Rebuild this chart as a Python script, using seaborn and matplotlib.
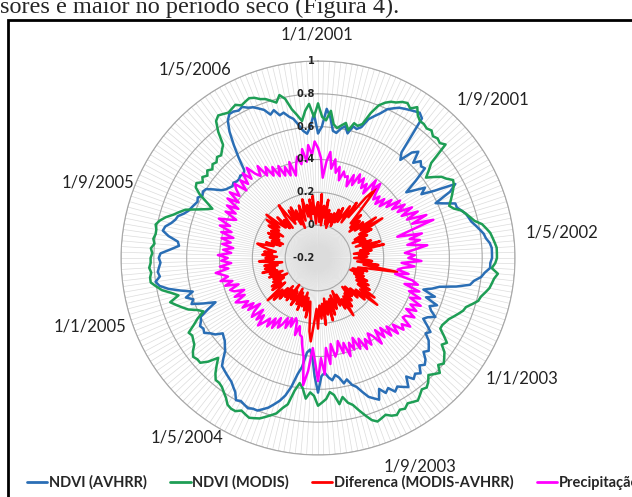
import numpy as np
import pandas as pd
import seaborn as sns
import matplotlib.pyplot as plt
from matplotlib.lines import Line2D
from matplotlib.patches import Rectangle

# decendios de 1/1/2001 a 21/12/2006 (216 categorias), rotulo a cada 8 meses
rotulos = ['1/1/2001', '1/9/2001', '1/5/2002', '1/1/2003', '1/9/2003',
           '1/5/2004', '1/1/2005', '1/9/2005', '1/5/2006']

ndvi_modis = [
    0.74, 0.66, 0.64, 0.70, 0.62, 0.60, 0.62, 0.64, 0.60, 0.65, 0.64, 0.66,
    0.74, 0.80, 0.83, 0.85, 0.86, 0.88, 0.89, 0.87, 0.90, 0.86, 0.84, 0.84,
    0.83, 0.84, 0.82, 0.83, 0.82, 0.84, 0.70, 0.66, 0.62, 0.66, 0.70, 0.72,
    0.75, 0.74, 0.72, 0.70, 0.68, 0.66, 0.68, 0.72, 0.74, 0.76, 0.78, 0.82,
    0.84, 0.86, 0.87, 0.88, 0.89, 0.89, 0.89, 0.88, 0.86, 0.90, 0.88, 0.87,
    0.86, 0.84, 0.82, 0.81, 0.78, 0.75, 0.74, 0.72, 0.70, 0.68, 0.67, 0.66,
    0.66, 0.70, 0.74, 0.72, 0.76, 0.78, 0.80, 0.78, 0.82, 0.80, 0.78, 0.81,
    0.83, 0.82, 0.84, 0.86, 0.85, 0.84, 0.86, 0.85, 0.87, 0.86, 0.84, 0.85,
    0.86, 0.84, 0.80, 0.76, 0.72, 0.70, 0.66, 0.70, 0.64, 0.62, 0.66, 0.68,
    0.70, 0.64, 0.62, 0.66, 0.60, 0.57, 0.62, 0.71, 0.74, 0.78, 0.80, 0.82,
    0.84, 0.85, 0.86, 0.85, 0.84, 0.86, 0.86, 0.85, 0.82, 0.80, 0.78, 0.77,
    0.77, 0.74, 0.70, 0.66, 0.72, 0.76, 0.76, 0.77, 0.75, 0.72, 0.71, 0.70,
    0.71, 0.66, 0.62, 0.57, 0.60, 0.65, 0.68, 0.71, 0.74, 0.68, 0.72, 0.77,
    0.80, 0.83, 0.83, 0.82, 0.83, 0.82, 0.82, 0.81, 0.82, 0.80, 0.81, 0.80,
    0.80, 0.81, 0.79, 0.76, 0.72, 0.69, 0.66, 0.60, 0.55, 0.51, 0.56, 0.62,
    0.66, 0.67, 0.64, 0.66, 0.64, 0.66, 0.64, 0.66, 0.65, 0.67, 0.66, 0.68,
    0.70, 0.78, 0.84, 0.86, 0.85, 0.84, 0.85, 0.86, 0.84, 0.85, 0.86, 0.85,
    0.83, 0.82, 0.80, 0.78, 0.82, 0.79, 0.72, 0.68, 0.64, 0.70, 0.74, 0.66,
]

ndvi_avhrr = [
    0.56, 0.60, 0.71, 0.66, 0.58, 0.57, 0.60, 0.62, 0.58, 0.63, 0.62, 0.64,
    0.70, 0.73, 0.76, 0.80, 0.82, 0.84, 0.85, 0.86, 0.87, 0.88, 0.86, 0.62,
    0.58, 0.66, 0.69, 0.62, 0.66, 0.64, 0.65, 0.56, 0.47, 0.52, 0.58, 0.54,
    0.62, 0.75, 0.70, 0.59, 0.64, 0.70, 0.70, 0.72, 0.74, 0.75, 0.76, 0.78,
    0.80, 0.82, 0.83, 0.85, 0.86, 0.86, 0.86, 0.85, 0.85, 0.82, 0.80, 0.76,
    0.74, 0.66, 0.56, 0.52, 0.47, 0.55, 0.50, 0.58, 0.54, 0.56, 0.60, 0.56,
    0.54, 0.58, 0.62, 0.60, 0.64, 0.66, 0.68, 0.66, 0.70, 0.72, 0.70, 0.74,
    0.72, 0.74, 0.70, 0.76, 0.74, 0.72, 0.74, 0.70, 0.72, 0.68, 0.74, 0.72,
    0.70, 0.66, 0.62, 0.60, 0.56, 0.58, 0.54, 0.52, 0.55, 0.53, 0.50, 0.52,
    0.62, 0.52, 0.40, 0.36, 0.38, 0.47, 0.52, 0.60, 0.66, 0.70, 0.73, 0.76,
    0.78, 0.80, 0.80, 0.81, 0.80, 0.79, 0.80, 0.76, 0.74, 0.72, 0.71, 0.70,
    0.69, 0.68, 0.64, 0.60, 0.58, 0.56, 0.55, 0.54, 0.58, 0.60, 0.63, 0.62,
    0.63, 0.61, 0.60, 0.54, 0.48, 0.55, 0.62, 0.60, 0.64, 0.59, 0.66, 0.73,
    0.78, 0.80, 0.77, 0.78, 0.77, 0.76, 0.77, 0.76, 0.70, 0.65, 0.66, 0.72,
    0.76, 0.75, 0.72, 0.70, 0.69, 0.66, 0.64, 0.63, 0.62, 0.61, 0.62, 0.60,
    0.61, 0.60, 0.56, 0.52, 0.50, 0.49, 0.48, 0.49, 0.48, 0.48, 0.49, 0.48,
    0.50, 0.58, 0.66, 0.74, 0.80, 0.83, 0.83, 0.82, 0.83, 0.81, 0.80, 0.78,
    0.76, 0.72, 0.74, 0.70, 0.71, 0.68, 0.66, 0.62, 0.58, 0.56, 0.60, 0.68,
]

diferenca = [
    0.14, 0.02, 0.19, 0.00, 0.12, 0.05, 0.16, 0.01, 0.10, -0.01, 0.08, 0.03,
    0.09, 0.01, 0.12, 0.04, 0.14, 0.05, 0.10, 0.17, 0.06, 0.21, 0.11, 0.27,
    0.35, 0.19, 0.09, 0.17, 0.07, 0.14, 0.05, 0.15, 0.08, 0.23, 0.11, 0.26,
    0.09, 0.17, 0.05, 0.13, 0.03, 0.11, 0.07, 0.14, 0.04, 0.19, 0.08, 0.21,
    0.06, 0.13, 0.02, 0.11, 0.05, 0.10, 0.02, 0.09, 0.13, 0.04, 0.17, 0.08,
    0.29, 0.12, 0.05, 0.11, 0.02, 0.09, 0.01, 0.10, 0.04, 0.13, 0.06, 0.15,
    0.07, 0.17, 0.09, 0.22, 0.12, 0.26, 0.10, 0.18, 0.07, 0.14, 0.04, 0.11,
    0.03, 0.13, 0.07, 0.16, 0.08, 0.21, 0.09, 0.15, 0.05, 0.12, 0.02, 0.10,
    0.13, 0.04, 0.16, 0.06, 0.19, 0.07, 0.15, 0.05, 0.21, 0.08, 0.17, 0.09,
    0.23, 0.11, 0.19, 0.31, 0.25, 0.13, 0.07, 0.17, 0.05, 0.13, 0.02, 0.11,
    0.05, 0.14, 0.03, 0.11, 0.01, 0.09, 0.13, 0.04, 0.10, 0.00, 0.12, 0.05,
    0.11, 0.03, 0.14, 0.06, 0.17, 0.09, 0.20, 0.10, 0.05, 0.14, 0.07, 0.13,
    0.04, 0.11, 0.01, 0.10, 0.05, 0.12, 0.03, 0.11, 0.06, 0.15, 0.07, 0.13,
    0.05, 0.13, 0.02, 0.10, 0.16, 0.07, 0.12, 0.05, 0.14, 0.08, 0.13, 0.06,
    0.11, 0.15, 0.18, 0.08, 0.13, 0.04, 0.10, 0.03, 0.12, 0.06, 0.14, 0.07,
    0.13, 0.05, 0.16, 0.09, 0.19, 0.10, 0.21, 0.11, 0.07, 0.15, 0.05, 0.11,
    0.04, 0.13, 0.20, 0.09, 0.05, 0.14, 0.07, 0.15, 0.03, 0.12, 0.00, 0.10,
    0.14, 0.04, 0.11, 0.17, 0.06, 0.13, 0.03, 0.16, 0.07, 0.18, 0.01, 0.11,
]

precipitacao = [
    0.47, 0.41, 0.29, 0.39, 0.45, 0.35, 0.41, 0.33, 0.37, 0.29, 0.35, 0.32,
    0.33, 0.27, 0.35, 0.29, 0.37, 0.32, 0.36, 0.30, 0.34, 0.28, 0.39, 0.33,
    0.39, 0.33, 0.29, 0.33, 0.28, 0.34, 0.29, 0.37, 0.32, 0.41, 0.34, 0.42,
    0.36, 0.45, 0.37, 0.47, 0.39, 0.51, 0.41, 0.54, 0.39, 0.30, 0.45, 0.37,
    0.43, 0.35, 0.47, 0.39, 0.33, 0.39, 0.35, 0.43, 0.31, 0.39, 0.32, 0.29,
    0.36, 0.28, 0.39, 0.43, 0.35, 0.45, 0.39, 0.47, 0.41, 0.49, 0.43, 0.48,
    0.42, 0.49, 0.44, 0.43, 0.50, 0.45, 0.48, 0.41, 0.47, 0.39, 0.45, 0.37,
    0.43, 0.36, 0.45, 0.38, 0.35, 0.42, 0.37, 0.43, 0.35, 0.41, 0.33, 0.40,
    0.35, 0.43, 0.34, 0.40, 0.32, 0.38, 0.41, 0.33, 0.45, 0.35, 0.51, 0.41,
    0.55, 0.43, 0.35, 0.49, 0.58, 0.41, 0.35, 0.29, 0.28, 0.23, 0.29, 0.21,
    0.19, 0.25, 0.20, 0.27, 0.21, 0.26, 0.29, 0.23, 0.31, 0.25, 0.32, 0.27,
    0.31, 0.35, 0.28, 0.33, 0.26, 0.34, 0.31, 0.25, 0.33, 0.28, 0.35, 0.30,
    0.34, 0.37, 0.30, 0.36, 0.29, 0.35, 0.37, 0.31, 0.39, 0.34, 0.41, 0.36,
    0.39, 0.43, 0.35, 0.40, 0.33, 0.39, 0.35, 0.41, 0.33, 0.38, 0.32, 0.39,
    0.34, 0.40, 0.33, 0.41, 0.35, 0.43, 0.37, 0.45, 0.39, 0.35, 0.43, 0.37,
    0.44, 0.37, 0.46, 0.39, 0.47, 0.41, 0.45, 0.48, 0.40, 0.47, 0.42, 0.49,
    0.43, 0.50, 0.44, 0.41, 0.47, 0.39, 0.44, 0.37, 0.42, 0.35, 0.41, 0.34,
    0.39, 0.33, 0.41, 0.32, 0.38, 0.43, 0.38, 0.47, 0.39, 0.49, 0.43, 0.51,
]

series = ['NDVI (AVHRR)', 'NDVI (MODIS)', 'Diferenca (MODIS-AVHRR)', 'Precipitação']
cores = ['#2A6EB5', '#1E9E55', '#FF0000', '#FF00FF']
valores = [ndvi_avhrr, ndvi_modis, diferenca, precipitacao]

n = len(ndvi_modis)
theta = np.linspace(0, 2 * np.pi, n, endpoint=False)

frames = []
for nome, v in zip(series, valores):
    # fecha o poligono voltando ao primeiro ponto
    frames.append(pd.DataFrame({'theta': np.append(theta, 2 * np.pi),
                                'valor': v + [v[0]], 'serie': nome}))
df = pd.concat(frames, ignore_index=True)

sns.set_style('white')
plt.rcParams['font.family'] = ['Lato', 'DejaVu Sans']

fig = plt.figure(figsize=(6.32, 4.97), dpi=100)
ax = fig.add_axes([0.1915, 0.0845, 0.6234, 0.7928], projection='polar')

sns.lineplot(data=df, x='theta', y='valor', hue='serie', hue_order=series,
             palette=cores, estimator=None, sort=False, lw=1.8, ax=ax, legend=False)

ax.set_theta_zero_location('N')
ax.set_theta_direction(-1)
ax.set_ylim(-0.2, 1.0)
rticks = [-0.2, 0, 0.2, 0.4, 0.6, 0.8, 1.0]
ax.set_yticks(rticks)
ax.set_yticklabels([])
ax.set_xticks(theta)
ax.set_xticklabels([])
ax.set_axisbelow(True)
ax.xaxis.grid(True, color='#DCDCDC', lw=0.5)
ax.yaxis.grid(True, color='#A8A8A8', lw=0.8)
ax.spines['polar'].set_color('#A8A8A8')
ax.spines['polar'].set_linewidth(0.8)
ax.set_xlabel('')
ax.set_ylabel('')

for r in rticks:
    txt = '{:g}'.format(r)
    ax.text(0, r, txt + ' ', ha='right', va='center', fontsize=7,
            fontweight='bold', color='#222222', family='DejaVu Sans')

# rotulos das categorias (posicoes como no grafico do Excel)
pos_rotulos = [(0.502, 0.930), (0.780, 0.799), (0.889, 0.533), (0.826, 0.239),
               (0.665, 0.062), (0.296, 0.119), (0.143, 0.344), (0.155, 0.632),
               (0.309, 0.861)]
for txt, (px, py) in zip(rotulos, pos_rotulos):
    fig.text(px, py, txt, ha='center', va='center', fontsize=12, color='#222222')

# moldura da figura e texto do documento
fig.patches.append(Rectangle((0.0127, -0.2), 1.2, 0.96 + 0.2, transform=fig.transFigure,
                             fill=False, edgecolor='black', lw=2))
fig.text(0.0, 0.974, 'sores é maior no período seco (Figura 4).', ha='left',
         va='baseline', fontsize=17.5, family='Liberation Serif')

handles = [Line2D([], [], color=c, lw=2) for c in cores]
fig.legend(handles, series, loc='lower left', bbox_to_anchor=(0.022, -0.012), ncol=4,
           frameon=False, fontsize=10.5, handlelength=1.4, handletextpad=0.1,
           columnspacing=1.6, prop={'family': 'Lato', 'size': 10.5, 'weight': 'bold'})

fig.savefig('out.png', dpi=100)
